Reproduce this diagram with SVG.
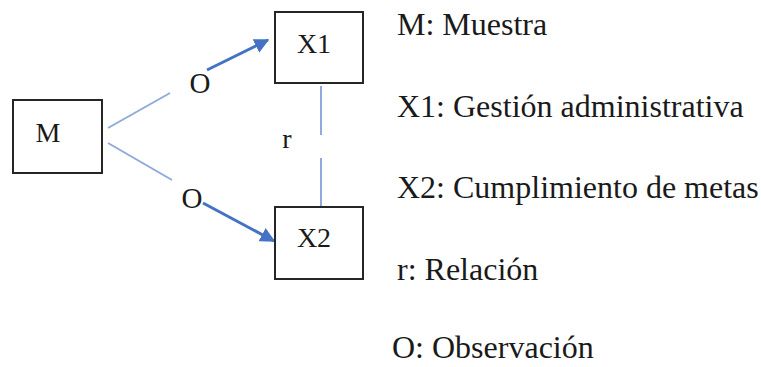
<svg xmlns="http://www.w3.org/2000/svg" width="761" height="367" viewBox="0 0 761 367">
<style>
.box{fill:#fff;stroke:#262626;stroke-width:2}
.t{font-family:'Liberation Serif','Times New Roman','DejaVu Serif',serif;fill:#1a1a1a}
.n{font-size:28px}
.leg{font-size:32px}
.thin{stroke:#8faadc;stroke-width:2;fill:none}
.thick{stroke:#4472c4;stroke-width:3;fill:none}
</style>
<defs>
<marker id="ah" viewBox="0 0 10 10" refX="9" refY="5" markerWidth="5" markerHeight="5" orient="auto" markerUnits="strokeWidth">
<path d="M0,0 L10,5 L0,10 Z" fill="#4472c4"/>
</marker>
</defs>
<rect width="761" height="367" fill="#fff"/>
<g id="connectors">
<line class="thin" x1="108" y1="128" x2="170" y2="93"/>
<line class="thick" x1="207" y1="70" x2="268" y2="40" marker-end="url(#ah)"/>
<line class="thin" x1="108" y1="143" x2="172" y2="180"/>
<line class="thick" x1="203" y1="203" x2="274" y2="241" marker-end="url(#ah)"/>
<line class="thin" x1="321" y1="86" x2="321" y2="135"/>
<line class="thin" x1="321" y1="158" x2="321" y2="207"/>
<text class="t" font-family="Liberation Serif, serif" x="200" y="93" font-size="29" text-anchor="middle">O</text>
<text class="t" font-family="Liberation Serif, serif" x="192" y="208" font-size="29" text-anchor="middle">O</text>
<text class="t n" font-family="Liberation Serif, serif" x="287" y="148" text-anchor="middle">r</text>
</g>
<g id="M">
<rect class="box" x="13" y="100" width="89" height="73"/>
<text class="t n" font-family="Liberation Serif, serif" x="48" y="142" text-anchor="middle">M</text>
</g>
<g id="X1">
<rect class="box" x="275" y="12" width="88" height="71"/>
<text class="t n" font-family="Liberation Serif, serif" x="314" y="53" text-anchor="middle">X1</text>
</g>
<g id="X2">
<rect class="box" x="275" y="207" width="88" height="72"/>
<text class="t n" font-family="Liberation Serif, serif" x="314" y="247" text-anchor="middle">X2</text>
</g>
<g id="legend">
<text class="t leg" font-family="Liberation Serif, serif" x="397" y="35">M: Muestra</text>
<text class="t leg" font-family="Liberation Serif, serif" x="397" y="117">X1: Gestión administrativa</text>
<text class="t leg" font-family="Liberation Serif, serif" x="397" y="198">X2: Cumplimiento de metas</text>
<text class="t leg" font-family="Liberation Serif, serif" x="397" y="280">r: Relación</text>
<text class="t leg" font-family="Liberation Serif, serif" x="392" y="358">O: Observación</text>
</g>
</svg>
